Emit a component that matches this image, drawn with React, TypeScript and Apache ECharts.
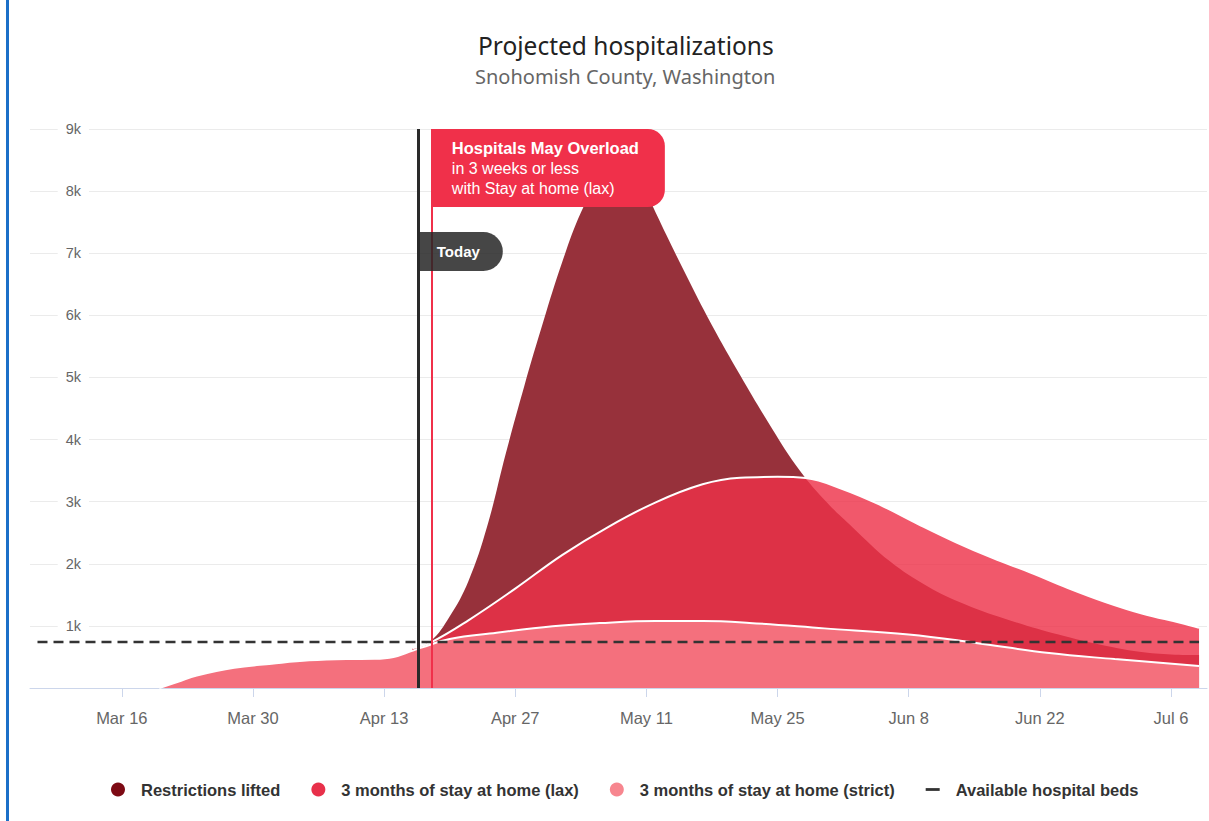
import React, { useEffect, useRef } from "react";
import * as echarts from "echarts";

// x values are days since Mar 16
const TICK_DAYS = [0, 14, 28, 42, 56, 70, 84, 98, 112];
const TICK_LABELS = ["Mar 16", "Mar 30", "Apr 13", "Apr 27", "May 11", "May 25", "Jun 8", "Jun 22", "Jul 6"];

const LIFTED_DAYS = [31, 33, 35, 37, 39, 41, 43, 45, 47, 49, 51, 53, 55, 57, 60, 63, 66, 69, 72, 75, 78, 82, 86, 90, 95, 100, 105, 110, 115];
const LIFTED_VALUES = [640, 760, 1150, 1720, 2600, 3780, 4880, 5900, 6850, 7650, 8200, 8500, 8300, 7650, 6720, 5840, 5040, 4280, 3580, 3030, 2590, 2040, 1640, 1350, 1080, 860, 680, 560, 530];

const LAX_DAYS = [31, 33, 37, 42, 47, 52, 57, 62, 66, 70, 73, 77, 81, 85, 89, 93, 97, 101, 105, 109, 113, 115];
const LAX_VALUES = [640, 735, 1090, 1600, 2140, 2600, 2990, 3280, 3385, 3400, 3380, 3200, 2945, 2640, 2350, 2090, 1860, 1610, 1385, 1195, 1050, 970];

const STRICT_DAYS = [4, 6, 8, 12, 16, 20, 24, 27, 29, 31, 32, 35, 40, 46, 51, 57, 62, 67, 75, 84, 91, 99, 106, 115];
const STRICT_VALUES = [0, 100, 200, 325, 390, 445, 467, 470, 500, 600, 650, 790, 890, 995, 1045, 1078, 1078, 1048, 960, 860, 730, 562, 466, 354];

const BEDS_DAYS = [-9, 115];
const BEDS_VALUES = [740, 740];

const TODAY_DAY = 31.6;
const OVERLOAD_DAY = 33.1;

const X_MIN = -9.8;
const X_MAX = 115.85;
const Y_MAX = 9000;

const zip = (xs: number[], ys: number[]) => xs.map((x, i) => [x, ys[i]]);

const FONT = "Liberation Sans, Arial, sans-serif";

export default function App() {
  const ref = useRef<HTMLDivElement>(null);

  useEffect(() => {
    if (!ref.current) return;
    const chart = echarts.init(ref.current, undefined, { renderer: "svg" });

    const option: any = {
      animation: false,
      backgroundColor: "#fff",
      title: [
        {
          text: "Projected hospitalizations",
          left: 473,
          top: 28,
          textStyle: { fontFamily: "Noto Sans", fontSize: 24.5, fontWeight: "normal", color: "#222" },
        },
        {
          text: "Snohomish County, Washington",
          left: 470,
          top: 61,
          textStyle: { fontFamily: "Noto Sans", fontSize: 20, fontWeight: "normal", color: "#666" },
        },
      ],
      grid: { left: 30, right: 2, top: 129, bottom: 133 },
      legend: {
        bottom: 18,
        left: 106,
        itemWidth: 14,
        itemHeight: 14,
        itemGap: 31,
        textStyle: { fontFamily: FONT, fontSize: 16.5, fontWeight: "bold", color: "#333", padding: [0, 0, 0, 11] },
        data: [
          { name: "Restrictions lifted", icon: "circle" },
          { name: "3 months of stay at home (lax)", icon: "circle" },
          { name: "3 months of stay at home (strict)", icon: "circle" },
          { name: "Available hospital beds", icon: "path://M0,0 L12,0 L12,2.4 L0,2.4 Z" },
        ],
      },
      xAxis: {
        type: "value",
        min: X_MIN,
        max: X_MAX,
        axisLine: { show: true, lineStyle: { color: "#ccd6eb", width: 1 } },
        axisTick: { show: true, length: 9, lineStyle: { color: "#ccd6eb" }, customValues: TICK_DAYS },
        axisLabel: {
          customValues: TICK_DAYS,
          formatter: (v: number) => {
            const i = TICK_DAYS.indexOf(v);
            return i >= 0 ? TICK_LABELS[i] : "";
          },
          margin: 21,
          color: "#666",
          fontSize: 16.5,
          fontFamily: FONT,
        },
        splitLine: { show: false },
      },
      yAxis: {
        type: "value",
        min: 0,
        max: Y_MAX,
        interval: 1000,
        axisLine: { show: false },
        axisTick: { show: false },
        splitLine: { lineStyle: { color: "#ebebeb", width: 1 } },
        axisLabel: {
          inside: true,
          align: "right",
          margin: 59,
          showMinLabel: false,
          formatter: (v: number) => (v === 0 ? "" : v / 1000 + "k"),
          backgroundColor: "#fff",
          padding: [1, 8],
          color: "#666",
          fontSize: 14.5,
          fontFamily: FONT,
        },
      },
      series: [
        {
          name: "Restrictions lifted",
          type: "line",
          data: zip(LIFTED_DAYS, LIFTED_VALUES),
          smooth: 0.4,
          symbol: "none",
          z: 1,
          lineStyle: { width: 0, color: "#97313b" },
          itemStyle: { color: "#7d0a14" },
          areaStyle: { color: "#97313b", opacity: 1 },
        },
        {
          name: "3 months of stay at home (lax)",
          type: "line",
          data: zip(LAX_DAYS, LAX_VALUES),
          smooth: 0.4,
          symbol: "none",
          z: 2,
          lineStyle: { width: 2, color: "#ffffff" },
          itemStyle: { color: "#e8304a" },
          areaStyle: { color: "rgba(238,49,73,0.81)", opacity: 1 },
        },
        {
          name: "3 months of stay at home (strict)",
          type: "line",
          data: zip(STRICT_DAYS, STRICT_VALUES),
          smooth: 0.4,
          symbol: "none",
          z: 3,
          lineStyle: { width: 2, color: "#ffffff" },
          itemStyle: { color: "#f7868f" },
          areaStyle: { color: "#f4707d", opacity: 1 },
        },
        {
          name: "Available hospital beds",
          type: "line",
          data: zip(BEDS_DAYS, BEDS_VALUES),
          symbol: "none",
          z: 4,
          lineStyle: { width: 2.5, color: "#333", type: [10, 6] },
          itemStyle: { color: "#333" },
          markLine: {
            silent: true,
            symbol: "none",
            label: { show: false },
            emphasis: { disabled: true },
            data: [
              { xAxis: TODAY_DAY, lineStyle: { color: "#2a2a2a", width: 3, type: "solid" } },
              { xAxis: OVERLOAD_DAY, lineStyle: { color: "#f0304a", width: 2, type: "solid" } },
            ],
          },
        },
      ],
    };

    chart.setOption(option);

    const [ox, yTop] = chart.convertToPixel({ gridIndex: 0 }, [OVERLOAD_DAY, Y_MAX]) as number[];
    const [tx] = chart.convertToPixel({ gridIndex: 0 }, [TODAY_DAY, Y_MAX]) as number[];

    chart.setOption({
      graphic: [
        {
          type: "rect",
          z: 100,
          shape: { x: 6, y: 0, width: 3, height: 821 },
          style: { fill: "#1b6fc8" },
        },
        {
          type: "rect",
          z: 100,
          shape: { x: ox + 1, y: yTop, width: 232, height: 78, r: [0, 17, 17, 0] },
          style: { fill: "#f0304a" },
        },
        {
          type: "text",
          z: 101,
          x: ox + 20,
          y: yTop + 9,
          style: {
            text: "{b|Hospitals May Overload}\nin 3 weeks or less\nwith Stay at home (lax)",
            fill: "#fff",
            fontFamily: FONT,
            fontSize: 16,
            lineHeight: 20,
            rich: { b: { fontWeight: "bold", fontSize: 16.5, fill: "#fff", fontFamily: FONT, lineHeight: 20 } },
          },
        },
        {
          type: "rect",
          z: 100,
          shape: { x: tx + 2, y: yTop + 103, width: 83, height: 39, r: [0, 20, 20, 0] },
          style: { fill: "rgba(38,38,38,0.85)" },
        },
        {
          type: "text",
          z: 101,
          x: tx + 19,
          y: yTop + 122.5,
          style: {
            text: "Today",
            fill: "#fff",
            fontFamily: FONT,
            fontSize: 15,
            fontWeight: "bold",
            verticalAlign: "middle",
          },
        },
      ],
    });

    return () => chart.dispose();
  }, []);

  return (
    <div
      ref={ref}
      style={{ position: "fixed", left: 0, top: 0, width: 1209, height: 821, background: "#fff" }}
    />
  );
}
